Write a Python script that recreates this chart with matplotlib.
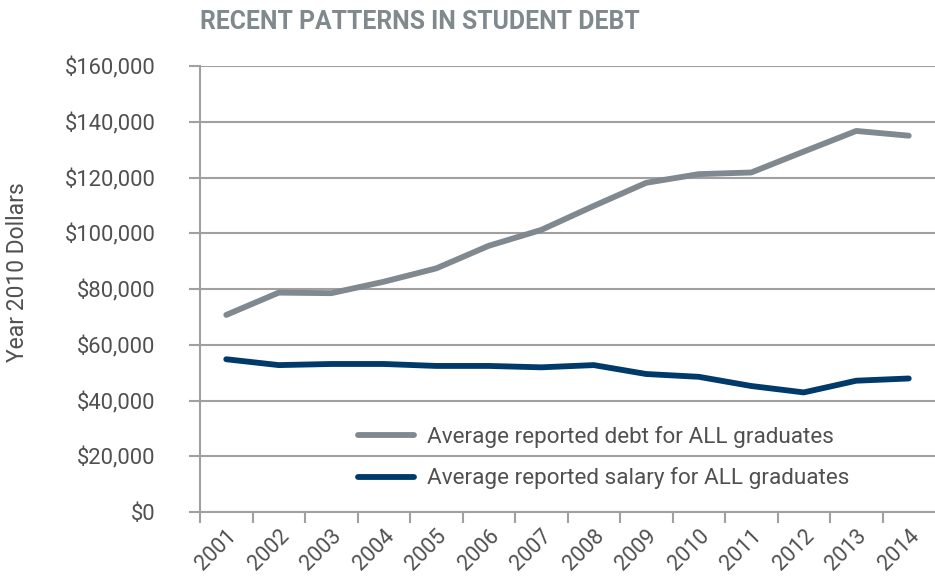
import matplotlib
matplotlib.use("Agg")
import matplotlib.pyplot as plt
from matplotlib.ticker import FuncFormatter, FixedLocator

# data
years = [str(y) for y in range(2001, 2015)]
debt = [70700, 78700, 78500, 82600, 87400, 95500, 101200, 109800,
        118100, 121200, 121800, 129300, 136700, 135000]
salary = [54800, 52700, 53100, 53100, 52400, 52400, 51900, 52700,
          49500, 48500, 45200, 42900, 47100, 47900]

grey_line = "#7f898f"
navy_line = "#003a6b"
text_col = "#505050"
grid_col = "#a0a0a0"

plt.rcParams['font.family'] = ['Roboto', 'DejaVu Sans']

fig = plt.figure(figsize=(9.35, 5.83), dpi=100)
ax = fig.add_axes([200 / 935, 1 - 512 / 583, 735 / 935, 446 / 583])

x = list(range(len(years)))
ax.plot(x, debt, color=grey_line, lw=4.2, solid_capstyle='round',
        label="Average reported debt for ALL graduates", zorder=3)
ax.plot(x, salary, color=navy_line, lw=4.2, solid_capstyle='round',
        label="Average reported salary for ALL graduates", zorder=3)

ax.set_xlim(-0.5, len(years) - 0.5)
ax.set_ylim(0, 160000)
ax.set_yticks(range(0, 160001, 20000))
ax.yaxis.set_major_formatter(FuncFormatter(lambda v, p: f"${int(v):,}"))
ax.grid(axis='y', color=grid_col, lw=1.5)
ax.set_axisbelow(True)

# ticks on category boundaries, labels at centres
ax.xaxis.set_major_locator(FixedLocator([i - 0.5 for i in range(len(years))]))
ax.xaxis.set_major_formatter(FuncFormatter(lambda v, p: ""))
ax.xaxis.set_minor_locator(FixedLocator(x))
ax.set_xticklabels(years, minor=True, rotation=45, ha='right',
                   rotation_mode='anchor', fontsize=15.5, color=text_col)
ax.tick_params(axis='x', which='minor', length=0, pad=10)
ax.tick_params(axis='x', which='major', length=8, width=1.5, color=grid_col)
ax.tick_params(axis='y', length=8, width=1.5, color=grid_col, pad=24,
               labelsize=15.8, labelcolor=text_col)

for s in ['top', 'right']:
    ax.spines[s].set_visible(False)
ax.spines['left'].set_color(grid_col)
ax.spines['left'].set_linewidth(1.5)
ax.spines['bottom'].set_color(grid_col)
ax.spines['bottom'].set_linewidth(1.5)

leg = ax.legend(loc='upper left', bbox_to_anchor=(0.215, 0.192), frameon=False,
                fontsize=16.2, borderpad=0, borderaxespad=0, handlelength=2.5,
                handletextpad=0.55, labelspacing=0.85)
for t in leg.get_texts():
    t.set_color(text_col)

fig.text(200 / 935, 1 - 22 / 583, "RECENT PATTERNS IN STUDENT DEBT",
         fontweight='bold', fontsize=17.8, color="#7f898e", va='center',
         ha='left')
fig.text(18 / 935, 1 - 272 / 583, "Year 2010 Dollars", rotation=90,
         fontsize=16.5, color=text_col, va='center', ha='center')

fig.savefig("out.png", dpi=100)
